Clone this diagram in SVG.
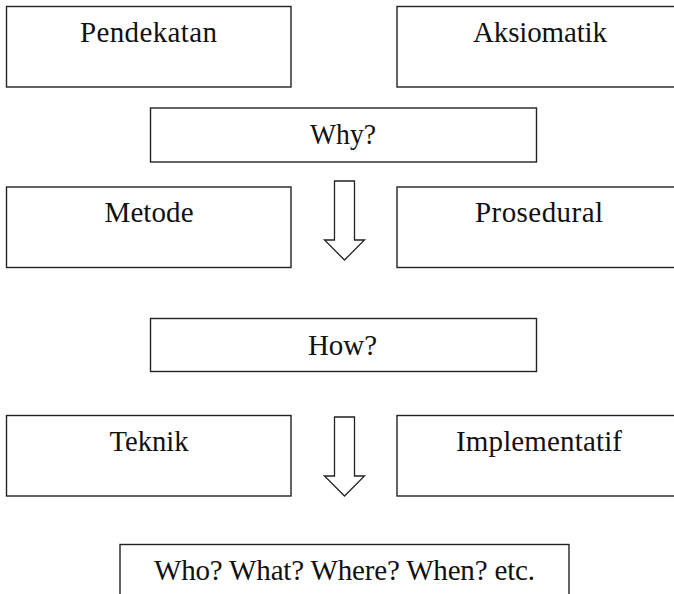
<svg xmlns="http://www.w3.org/2000/svg" width="674" height="594" viewBox="0 0 674 594">
<style>
.box{fill:#fff;stroke:#222;stroke-width:1.4}
.arrow{fill:#fff;stroke:#222;stroke-width:1.3;stroke-linejoin:miter}
text{font-family:"Liberation Serif","Times New Roman",serif;font-size:29px;fill:#111;text-anchor:middle}
</style>
<rect width="674" height="594" fill="#fff"/>
<g id="pendekatan"><rect class="box" x="6.5" y="6.5" width="284.5" height="80.5"/><text x="148.5" y="42" textLength="137" lengthAdjust="spacing">Pendekatan</text></g>
<g id="aksiomatik"><rect class="box" x="397" y="6.5" width="290" height="80.5"/><text x="540" y="42" textLength="134" lengthAdjust="spacing">Aksiomatik</text></g>
<g id="why"><rect class="box" x="150.5" y="108" width="386" height="54"/><text x="343" y="144" textLength="66" lengthAdjust="spacingAndGlyphs">Why?</text></g>
<g id="metode"><rect class="box" x="6.5" y="187" width="284.5" height="80.5"/><text x="149" y="222" textLength="89" lengthAdjust="spacing">Metode</text></g>
<g id="prosedural"><rect class="box" x="397" y="187" width="290" height="80.5"/><text x="539" y="222" textLength="128" lengthAdjust="spacing">Prosedural</text></g>
<g id="how"><rect class="box" x="150.5" y="318.5" width="386" height="53"/><text x="342.5" y="355" textLength="69" lengthAdjust="spacing">How?</text></g>
<g id="teknik"><rect class="box" x="6.5" y="415.5" width="284.5" height="80.5"/><text x="149" y="451" textLength="79" lengthAdjust="spacingAndGlyphs">Teknik</text></g>
<g id="implementatif"><rect class="box" x="397" y="415.5" width="290" height="80.5"/><text x="539" y="451" textLength="166" lengthAdjust="spacing">Implementatif</text></g>
<g id="who"><rect class="box" x="120" y="544.5" width="449" height="60"/><text x="344.5" y="580" textLength="381" lengthAdjust="spacing">Who? What? Where? When? etc.</text></g>
<g id="connectors">
<path class="arrow" d="M334.5,181 H354.5 V240 H364.5 L344.5,260 L324.5,240 H334.5 Z"/>
<path class="arrow" d="M334.5,417 H354.5 V476 H364.5 L344.5,496 L324.5,476 H334.5 Z"/>
</g>
</svg>
